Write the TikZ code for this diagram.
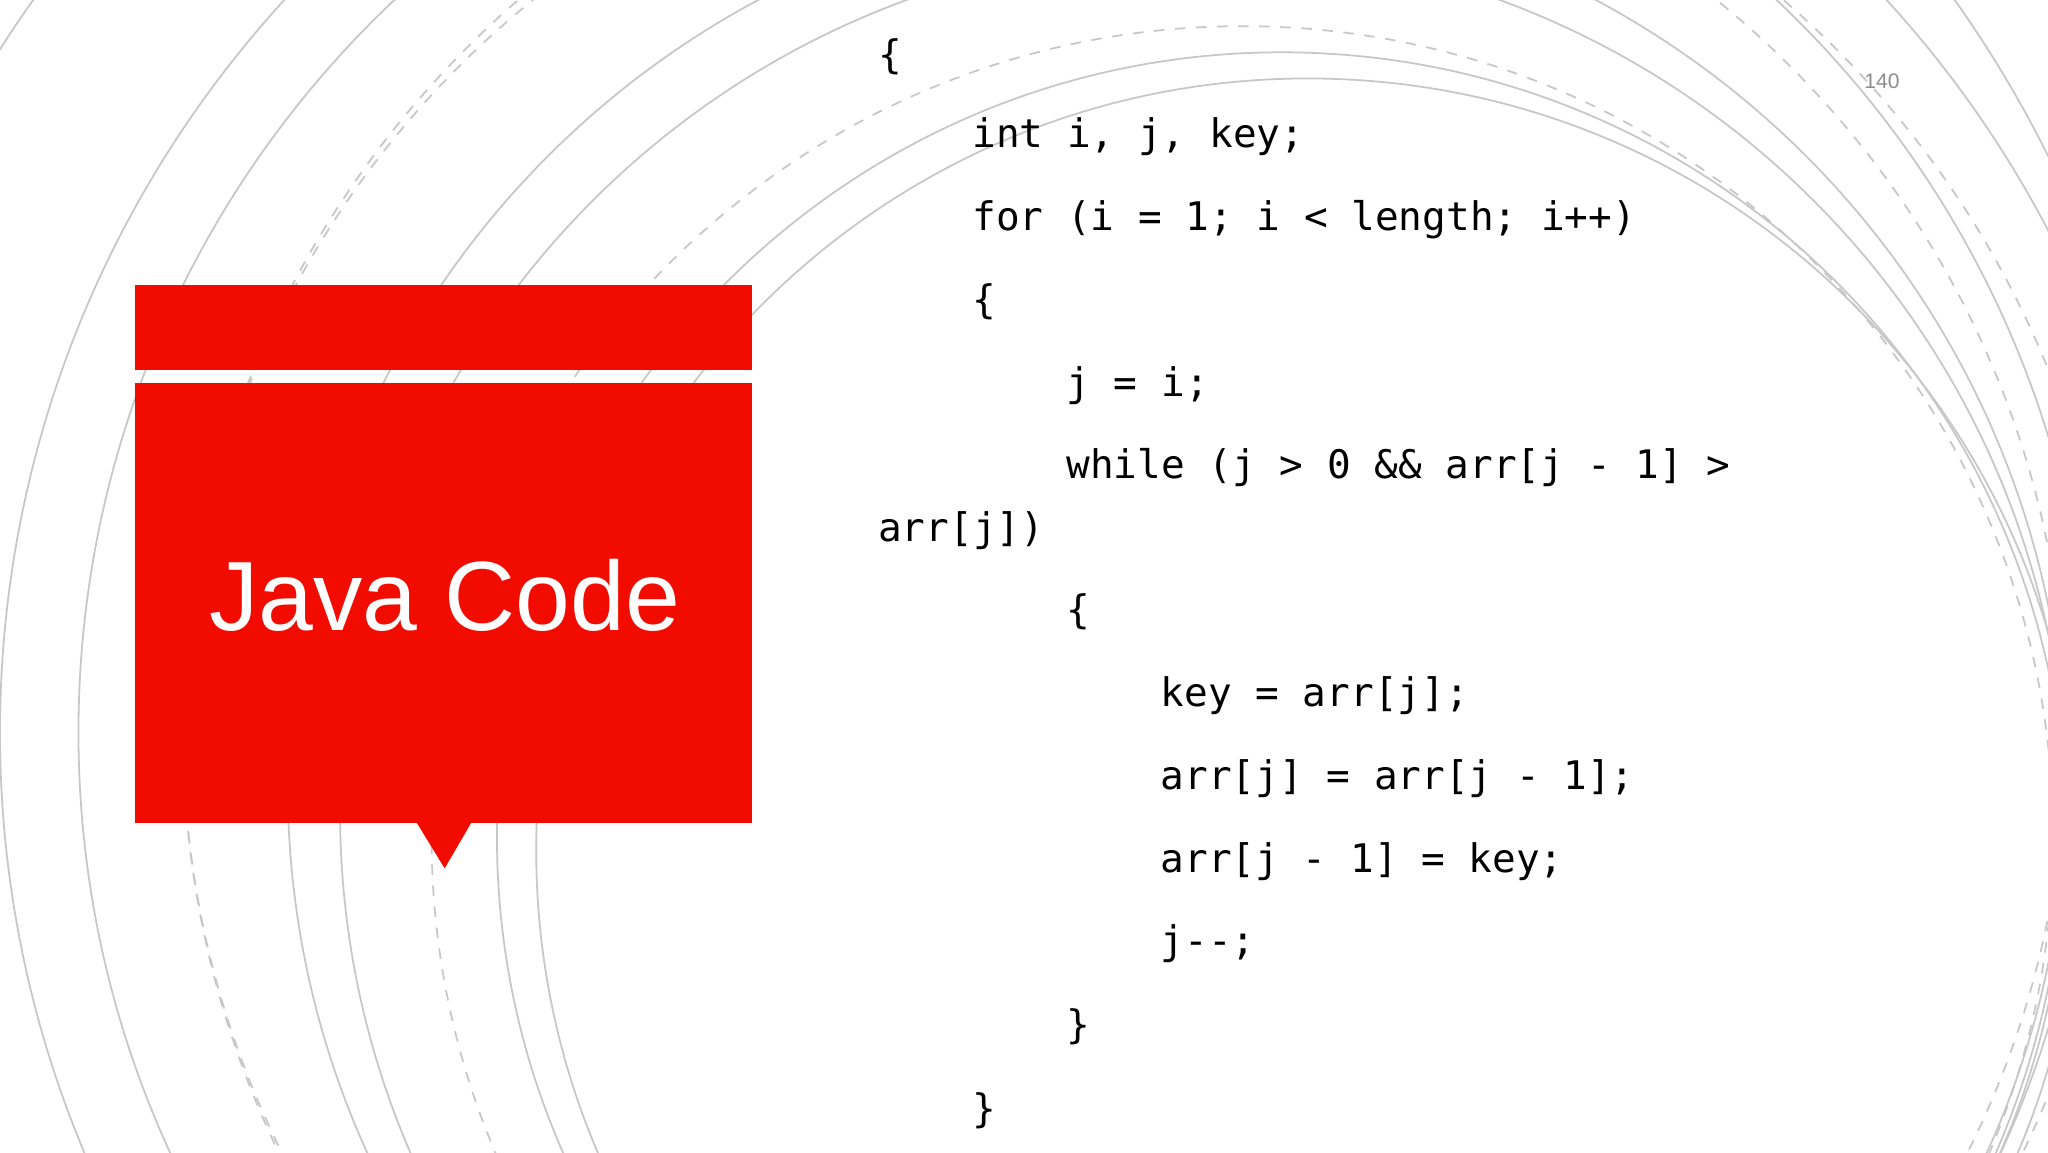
\documentclass[tikz,border=0pt]{standalone}
\usepackage{fontspec}
\setmainfont{Liberation Sans}
\newfontfamily\codefont{DejaVu Sans Mono}
\begin{document}
\begin{tikzpicture}[x=0.013078cm,y=-0.013078cm,
  arcl/.style={draw=black!22,line width=0.5pt},
  arcd/.style={draw=black!22,line width=0.5pt,dashed},
  code/.style={anchor=base west,inner sep=0,font=\codefont\fontsize{11.2}{13}\selectfont},
  redfill/.style={fill=red!90!orange!95!black,draw=none}]
\useasboundingbox (0,0) rectangle (1566,881);
\fill[white] (0,0) rectangle (1566,881);
\begin{scope}
\clip (0,0) rectangle (1566,881);
\draw[arcl] (830,560) circle (770);
\draw[arcl] (830,560) circle (830);
\draw[arcd] (860,560) circle (720);
\draw[arcl] (900,600) circle (680);
\draw[arcl] (920,620) circle (660);
\draw[arcd] (950,640) circle (620);
\draw[arcl] (980,640) circle (600);
\draw[arcl] (1000,650) circle (590);
\draw[arcd] (880,560) circle (740);
\draw[arcl] (760,520) circle (900);
\end{scope}
\fill[redfill] (103,218) rectangle (575,283);
\fill[redfill] (103,293) rectangle (575,629);
\fill[redfill] (318,628) -- (361,628) -- (340,664) -- cycle;
\node[text=white,font=\fontsize{28}{32}\selectfont] (title) at (340,455) {Java Code};
\node[text=black!45,font=\fontsize{6}{7}\selectfont] (pg) at (1439,62) {140};
\node[code] (l1) at (671,52) {\{};
\node[code] (l2) at (743,113) {int i, j, key;};
\node[code] (l3) at (743,176) {for (i = 1; i < length; i++)};
\node[code] (l4) at (743,240) {\{};
\node[code] (l5) at (815,303) {j = i;};
\node[code] (l6) at (815,366) {while (j > 0 \&\& arr[j - 1] >};
\node[code] (l7) at (671,414) {arr[j])};
\node[code] (l8) at (815,477) {\{};
\node[code] (l9) at (887,540) {key = arr[j];};
\node[code] (l10) at (887,604) {arr[j] = arr[j - 1];};
\node[code] (l11) at (887,667) {arr[j - 1] = key;};
\node[code] (l12) at (887,730) {j-{}-;};
\node[code] (l13) at (815,794) {\}};
\node[code] (l14) at (743,858) {\}};
\end{tikzpicture}
\end{document}
